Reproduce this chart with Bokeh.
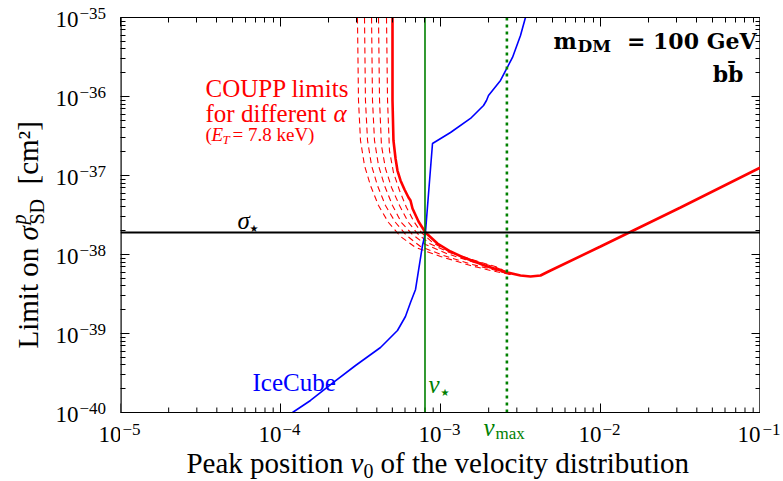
import numpy as np
from math import pi
from bokeh.plotting import figure
from bokeh.layouts import row
from bokeh.models import Span, Label, FixedTicker, LogAxis, CustomJSTickFormatter
from bokeh.embed import file_html
from bokeh.resources import INLINE

# ---------------- data (log10 v0, log10 sigma[cm^2]) ----------------
icecube_log_v0 = [-3.925, -3.8125, -3.669, -3.531, -3.375, -3.269, -3.219, -3.1875, -3.156, -3.1375,
                  -3.1125, -3.094, -3.05, -2.9375, -2.8125, -2.731, -2.7125, -2.7, -2.625, -2.55, -2.5, -2.469]
icecube_log_sigma = [-40.0, -39.848, -39.620, -39.405, -39.177, -38.962, -38.785, -38.608, -38.443, -38.203,
                     -37.886, -37.722, -36.595, -36.456, -36.278, -36.114, -36.051, -35.987, -35.797, -35.506, -35.228, -35.0]

coupp_log_v0 = [-3.3, -3.3, -3.294, -3.281, -3.269, -3.25, -3.225, -3.2, -3.1875, -3.175, -3.1375, -3.094,
                -3.019, -2.9375, -2.856, -2.706, -2.581, -2.5, -2.4375, -2.375, -2.325, -2.0, -1.5, -1.0]
coupp_log_sigma = [-35.0, -36.051, -36.557, -36.785, -36.937, -37.063, -37.177, -37.278, -37.316, -37.418, -37.582, -37.722,
                   -37.861, -37.962, -38.038, -38.152, -38.228, -38.266, -38.278, -38.266, -38.215, -37.899, -37.405, -36.899]

alpha1_log_v0 = [-3.519, -3.5125, -3.5, -3.475, -3.4375, -3.3875, -3.325, -3.25, -3.156, -3.0, -2.8125, -2.6875, -2.5625]
alpha1_log_sigma = [-35.0, -36.051, -36.557, -36.873, -37.127, -37.380, -37.595, -37.772, -37.911, -38.025, -38.139, -38.203, -38.253]
alpha2_log_v0 = [-3.475, -3.469, -3.456, -3.431, -3.394, -3.344, -3.281, -3.2125, -3.125, -2.981, -2.8, -2.675, -2.5625]
alpha2_log_sigma = [-35.0, -36.051, -36.557, -36.873, -37.127, -37.380, -37.595, -37.759, -37.899, -38.013, -38.127, -38.190, -38.253]
alpha3_log_v0 = [-3.431, -3.425, -3.4125, -3.3875, -3.35, -3.3, -3.244, -3.175, -3.094, -2.9625, -2.7875, -2.6625, -2.5625]
alpha3_log_sigma = [-35.0, -36.051, -36.557, -36.873, -37.127, -37.380, -37.595, -37.747, -37.873, -37.987, -38.101, -38.177, -38.253]
alpha4_log_v0 = [-3.3875, -3.381, -3.369, -3.344, -3.306, -3.256, -3.2, -3.144, -3.069, -2.944, -2.775, -2.65, -2.5625]
alpha4_log_sigma = [-35.0, -36.051, -36.620, -36.911, -37.152, -37.380, -37.595, -37.734, -37.861, -37.975, -38.089, -38.165, -38.253]
alpha5_log_v0 = [-3.3375, -3.331, -3.319, -3.294, -3.256, -3.2125, -3.1625, -3.119, -3.05, -2.9375, -2.7625, -2.6375, -2.5625]
alpha5_log_sigma = [-35.0, -36.051, -36.684, -36.962, -37.190, -37.405, -37.595, -37.722, -37.848, -37.975, -38.089, -38.165, -38.253]

v_star = 8.0e-4
v_max = 2.6e-3
sigma_star = 1.9e-38

x_ticks = [1e-5, 1e-4, 1e-3, 1e-2, 1e-1]
x_tick_exponents = ["\u22125", "\u22124", "\u22123", "\u22122", "\u22121"]
y_ticks = [1e-40, 1e-39, 1e-38, 1e-37, 1e-36, 1e-35]
y_tick_exponents = ["\u221240", "\u221239", "\u221238", "\u221237", "\u221236", "\u221235"]

# ---------------- page geometry (pixels) ----------------
FONT = "Liberation Serif"
BOLD_FONT = "DejaVu Serif"
W, H = 783, 481
FL, FR, FT, FB = 120, 760, 17, 412          # edges of the plotting box on the page
PX_PER_DEC_Y = (FB - FT) / 5
Y_LOW = 10 ** (np.log10(y_ticks[0]) - (H - FB) / PX_PER_DEC_Y)   # range reaches the page bottom

# ---------------- main plot (its frame runs down to the page bottom) ----------------
p = figure(width=FR - FL, height=H, x_axis_type="log", y_axis_type="log",
           x_range=(x_ticks[0], x_ticks[-1]), y_range=(Y_LOW, y_ticks[-1]),
           x_axis_location="above", output_backend="svg", toolbar_location=None,
           frame_align=False, min_border_left=0, min_border_right=0,
           min_border_top=FT, min_border_bottom=0)
p.grid.visible = False
p.outline_line_color = None
p.background_fill_color = "white"
p.border_fill_color = "white"

x_minor = [k * t for t in x_ticks[:-1] for k in range(2, 10)]
y_minor = [k * t for t in y_ticks[:-1] for k in range(2, 10)]
blank = CustomJSTickFormatter(code="return ''")


def style_axis(ax, ticks, minor, line=True):
    ax.ticker = FixedTicker(ticks=ticks, minor_ticks=minor)
    ax.formatter = blank
    ax.major_tick_in = 9
    ax.major_tick_out = 0
    ax.minor_tick_in = 5
    ax.minor_tick_out = 0
    ax.axis_line_color = "black" if line else None
    ax.axis_line_width = 1.2
    ax.major_tick_line_color = "black"
    ax.minor_tick_line_color = "black"
    ax.major_label_text_font_size = "0px"
    ax.major_label_standoff = 0


style_axis(p.xaxis[0], x_ticks, x_minor)            # top axis
style_axis(p.yaxis[0], y_ticks, y_minor, line=False)
right_ax = LogAxis()
style_axis(right_ax, y_ticks, y_minor, line=False)
p.add_layout(right_ax, "right")

# box edges and bottom ticks (bottom edge sits at the lowest y tick)
p.add_layout(Span(location=y_ticks[0], dimension="width", line_color="black", line_width=1.2))
p.ray(x=[x_ticks[0], x_ticks[-1]], y=[y_ticks[0], y_ticks[0]], length=0, angle=pi / 2,
      line_color="black", line_width=2.4)
p.ray(x=x_ticks, y=[y_ticks[0]] * len(x_ticks), length=9, length_units="screen", angle=pi / 2,
      line_color="black", line_width=1)
p.ray(x=x_minor, y=[y_ticks[0]] * len(x_minor), length=5, length_units="screen", angle=pi / 2,
      line_color="black", line_width=1)

# curves
for lv, ls in [(alpha1_log_v0, alpha1_log_sigma), (alpha2_log_v0, alpha2_log_sigma),
               (alpha3_log_v0, alpha3_log_sigma), (alpha4_log_v0, alpha4_log_sigma),
               (alpha5_log_v0, alpha5_log_sigma)]:
    p.line(10 ** np.array(lv), 10 ** np.array(ls), line_color="#ff0000", line_width=1.1, line_dash="6 4")

p.line(10 ** np.array(coupp_log_v0), 10 ** np.array(coupp_log_sigma), line_color="#ff0000", line_width=2.6)
p.line(10 ** np.array(icecube_log_v0), 10 ** np.array(icecube_log_sigma), line_color="#0000ff", line_width=1.6)

p.add_layout(Span(location=sigma_star, dimension="width", line_color="black", line_width=1.8))
p.ray(x=[v_star], y=[y_ticks[0]], length=0, angle=pi / 2, line_color="#008000", line_width=1.6)
p.ray(x=[v_max], y=[y_ticks[0]], length=0, angle=pi / 2, line_color="#008000", line_width=2.6,
      line_dash="3 4")


# ---------------- side strips for text ----------------
def text_fig(w, h):
    f = figure(width=w, height=h, x_range=(0, w), y_range=(0, h),
               output_backend="svg", toolbar_location=None, min_border=0, frame_align=False,
               x_axis_location=None, y_axis_location=None)
    f.grid.visible = False
    f.outline_line_color = None
    f.background_fill_color = "white"
    f.border_fill_color = "white"
    return f


left = text_fig(FL, H)
right = text_fig(W - FR, H)

PLACE = {"left": (left, 0, False), "right": (right, FR, False), "main": (p, FL, True)}
BASE_FIX = 0.3   # the renderer sets the baseline about 0.3 em lower than asked


def lab(where, px, py, text, size=25, color="black", style="normal", align="left", angle=0.0,
        font=FONT):
    fig, x0, screen = PLACE[where]
    if angle == 0.0:
        py = py - BASE_FIX * size
    else:
        px = px - BASE_FIX * size
    kw = dict(x_units="screen", y_units="screen") if screen else {}
    fig.add_layout(Label(x=float(px - x0), y=float(H - py), text=text, text_font=font,
                         text_font_size=f"{size}px", text_color=color, text_font_style=style,
                         text_align=align, text_baseline="alphabetic", angle=angle, **kw))


def PX(v):
    return FL + (np.log10(v) + 5) / 4 * (FR - FL)


def PY(s):
    return FT + (-35 - np.log10(s)) / 5 * (FB - FT)


# x tick labels
for i, (t, e) in enumerate(zip(x_ticks, x_tick_exponents)):
    lab("left" if i == 0 else "main", min(PX(t) + 1, FR), 441, "10", size=23, align="right")
    lab("right" if i == len(x_ticks) - 1 else "main", PX(t) + 2, 434, e, size=17)
# y tick labels
for t, e in zip(y_ticks, y_tick_exponents):
    lab("left", 78, PY(t) + 9, "10", size=23, align="right")
    lab("left", 79, PY(t) + 1, e, size=17)

# x axis title
lab("main", 343, 471, "Peak position", size=29, align="right")
lab("main", 350, 471, "v", size=29, style="italic")
lab("main", 363, 476, "0", size=20)
lab("main", 380, 471, "of the velocity distribution", size=29)

# y axis title (rotated)
lab("left", 36, 348, "Limit on", size=29, angle=pi / 2)
lab("left", 36, 240, "\u03c3", size=29, style="italic", angle=pi / 2)
lab("left", 24, 224, "p", size=20, style="italic", angle=pi / 2)
lab("left", 42, 224, "SD", size=20, angle=pi / 2)
lab("left", 36, 184, "[cm\u00b2]", size=29, angle=pi / 2)

# v_max marker label (below the box)
lab("main", 483, 434, "v", color="#008000", style="italic")
lab("main", 495, 438, "max", size=17, color="#008000")

# annotations inside the box
lab("main", 205, 95, "COUPP limits", color="#ff0000")
lab("main", 205, 120, "for different", color="#ff0000")
lab("main", 333, 120, "\u03b1", color="#ff0000", style="italic")
lab("main", 205, 140, "(", size=19, color="#ff0000")
lab("main", 211, 140, "E", size=19, color="#ff0000", style="italic")
lab("main", 222, 143, "T", size=13, color="#ff0000", style="italic")
lab("main", 232, 140, "= 7.8 keV)", size=19, color="#ff0000")

lab("main", 252, 389, "IceCube", color="#0000ff")

lab("main", 237, 227, "\u03c3", style="italic")
lab("main", 249, 231, "\u2605", size=10, font="DejaVu Sans")

lab("main", 428, 391, "v", color="#008000", style="italic")
lab("main", 440, 395, "\u2605", size=10, color="#008000", font="DejaVu Sans")

lab("main", 553, 47, "m", size=22, style="bold", font=BOLD_FONT)
lab("main", 577, 51, "DM", size=17, style="bold", font=BOLD_FONT)
lab("main", 756, 47, "= 100 GeV", size=22, style="bold", align="right", font=BOLD_FONT)
lab("main", 743, 80, "bb\u0304", size=22, style="bold", align="right", font=BOLD_FONT)

page = row(left, p, right)
open("out.html", "w").write(file_html(page, INLINE))
